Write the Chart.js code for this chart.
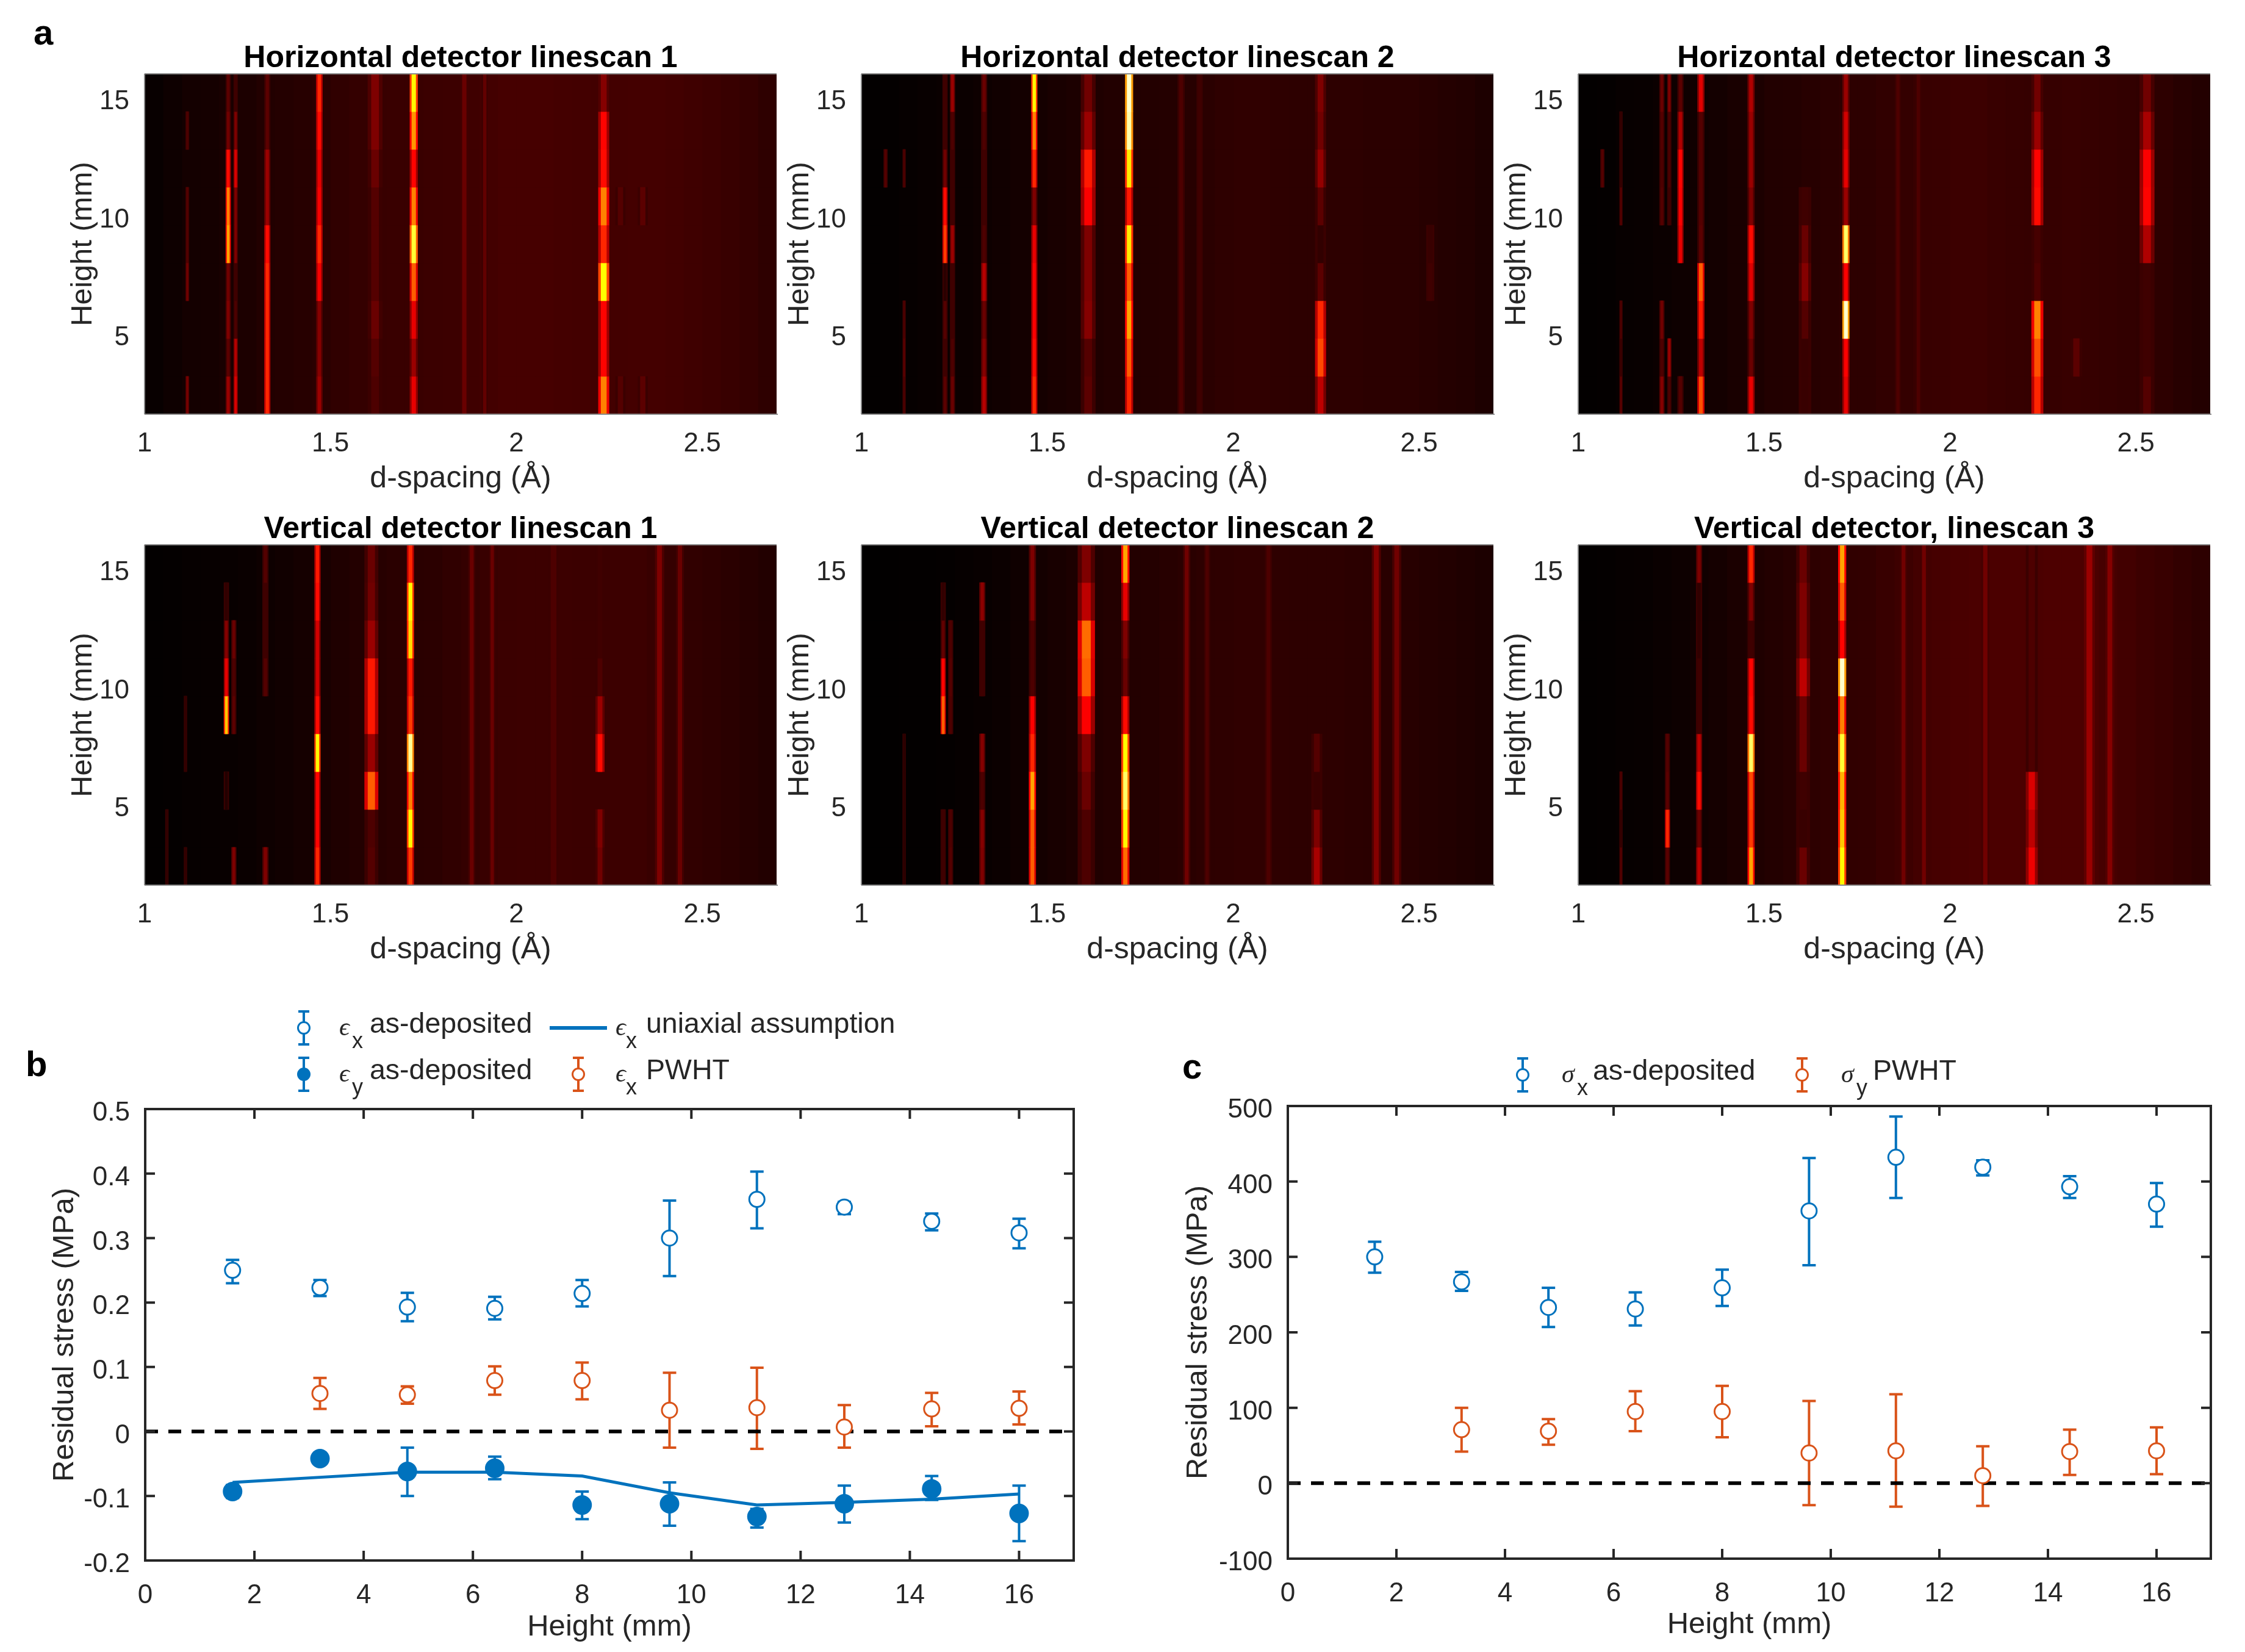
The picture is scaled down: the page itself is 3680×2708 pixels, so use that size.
<!DOCTYPE html>
<html><head><meta charset="utf-8">
<style>
html,body{margin:0;padding:0;background:#fff}
#page{position:relative;width:3680px;height:2708px;overflow:hidden;background:#fff}
canvas{position:absolute}
.letter{position:absolute;font:bold 58px/1 "Liberation Sans",sans-serif;color:#000}
</style>
<script src="https://cdn.jsdelivr.net/npm/chart.js@4/dist/chart.umd.min.js"></script>
</head><body><div id="page">
<div class="letter" style="left:55px;top:24px">a</div>
<div class="letter" style="left:42px;top:1715px">b</div>
<div class="letter" style="left:1938px;top:1719px">c</div>
</div>
<script>
// ---------- shared axes ----------
const dTicks=[1,1.5,2,2.5];
const heatHeightTicks=[5,10,15];
const rowLabels=['1.6-3.2','3.2-4.8','4.8-6.4','6.4-8','8-9.6','9.6-11.2','11.2-12.8','12.8-14.4','14.4-16'];
const bgBinStart=[1,1.05,1.1,1.15,1.2,1.25,1.3,1.35,1.4,1.45,1.5,1.55,1.6,1.65,1.7,1.75,1.8,1.85,1.9,1.95,2,2.05,2.1,2.15,2.2,2.25,2.3,2.35,2.4,2.45,2.5,2.55,2.6,2.65];
const bgBinWidth=0.05;

// ---------- background intensity per d bin ----------
const bgH1=[.012,.02,.028,.03,.036,.04,.048,.052,.056,.06,.068,.075,.08,.082,.082,.084,.086,.09,.096,.1,.1,.1,.098,.096,.094,.096,.098,.098,.094,.09,.086,.08,.074,.066];
const bgH2=[.004,.006,.008,.012,.014,.016,.02,.024,.028,.03,.036,.04,.044,.048,.05,.05,.052,.056,.06,.066,.068,.068,.066,.064,.064,.064,.064,.062,.062,.06,.056,.052,.048,.042];
const bgH3=[.004,.006,.01,.012,.016,.02,.024,.028,.036,.04,.048,.05,.056,.06,.064,.064,.07,.074,.08,.082,.086,.086,.08,.078,.076,.078,.08,.078,.074,.072,.068,.064,.056,.05];
const bgV1=[.004,.006,.008,.01,.012,.014,.02,.024,.03,.036,.044,.05,.056,.06,.06,.062,.068,.074,.08,.084,.086,.086,.086,.084,.084,.086,.086,.08,.076,.07,.066,.06,.054,.048];
const bgV2=[.002,.003,.004,.005,.006,.008,.012,.016,.022,.028,.034,.04,.046,.05,.05,.052,.056,.06,.064,.066,.068,.068,.066,.064,.064,.064,.062,.06,.058,.056,.052,.048,.044,.04];
const bgV3=[.004,.006,.008,.01,.014,.018,.024,.03,.038,.044,.05,.056,.064,.068,.07,.072,.08,.088,.096,.1,.104,.108,.108,.108,.108,.11,.11,.108,.1,.094,.086,.08,.072,.064];

// ---------- peaks: d, d-width, intensity in height rows bottom to top (0 = none) ----------
const peaksH1=[
[1.115,.007,.17,0,0,.16,.12,.12,0,.11,0],
[1.225,.01,.22,.13,.18,.16,.6,.55,.38,.16,.13],
[1.245,.008,.31,.26,.11,.09,.18,.18,.31,.18,.09],
[1.33,.012,.42,.42,.42,.42,.38,.22,.22,.13,.13],
[1.47,.013,.22,.19,.19,.35,.42,.35,.33,.38,.42],
[1.62,.03,.11,.12,.15,.12,.12,.12,.15,.18,.18],
[1.724,.016,.33,.22,.33,.5,.8,.55,.37,.58,.72],
[1.86,.016,.15,.15,.15,.15,.15,.15,.15,.15,.15],
[1.915,.012,.14,.14,.14,.14,.14,.14,.14,.14,.14],
[2.235,.022,.55,.37,.37,.75,.42,.55,.38,.37,.19],
[2.28,.02,.12,0,0,0,0,.12,0,0,0],
[2.34,.02,.13,0,0,0,0,.13,0,0,0]];
const peaksH2=[
[1.065,.008,0,0,0,0,0,0,.12,0,0],
[1.115,.006,.11,.13,.11,0,0,0,.11,0,0],
[1.225,.01,.13,.09,.12,.06,.45,.38,.16,.09,.09],
[1.245,.01,.15,.11,.09,.09,.22,.09,.09,.11,.22],
[1.33,.012,.26,.19,.15,.26,.11,.09,.09,.11,.15],
[1.465,.012,.42,.38,.36,.36,.33,.18,.42,.55,.72],
[1.61,.03,.13,.12,.19,.18,.18,.36,.4,.22,.16],
[1.72,.016,.42,.5,.6,.5,.7,.4,.7,.92,.95],
[1.86,.014,.11,.11,.11,.11,.11,.11,.11,.11,.11],
[1.91,.012,.09,.09,.09,.09,.09,.09,.09,.09,.09],
[2.235,.022,.27,.47,.42,.13,.07,.13,.21,.16,.18],
[2.53,.016,0,0,0,.09,.08,0,0,0,0]];
const peaksH3=[
[1.065,.008,0,0,0,0,0,0,.12,0,0],
[1.115,.006,.13,.08,.11,0,0,.12,.07,.07,0],
[1.225,.01,.19,.11,.16,0,0,.12,.11,.12,.15],
[1.245,.008,.11,.22,0,0,0,.09,.11,.11,.18],
[1.275,.012,.12,0,0,0,.33,.36,.37,.25,.13],
[1.33,.014,.48,.27,.4,.5,.13,.12,.12,.12,.32],
[1.465,.014,.33,.15,.18,.32,.38,.18,.22,.22,.25],
[1.61,.025,.08,.08,.12,.19,.15,.09,0,0,0],
[1.72,.014,.33,.36,.95,.36,.85,.22,.33,.3,.22],
[1.86,.012,.11,.11,.11,.11,.11,.11,.11,.11,.11],
[1.915,.012,.11,.11,.11,.11,.11,.11,.11,.11,.11],
[2.235,.024,.42,.48,.55,.11,.1,.38,.37,.22,.16],
[2.34,.024,0,.13,0,0,0,0,0,0,0],
[2.53,.03,.12,.09,.09,.09,.25,.37,.36,.24,.16]];
const peaksV1=[
[1.06,.006,.07,.07,0,0,0,0,0,0,0],
[1.11,.006,.07,0,0,.07,.07,0,0,0,0],
[1.22,.01,0,0,.05,0,.65,.33,.19,.07,0],
[1.24,.01,.18,0,0,0,.13,.11,.15,0,0],
[1.325,.012,.18,0,0,0,0,.12,.09,.09,.12],
[1.465,.012,.42,.37,.37,.72,.38,.3,.3,.38,.4],
[1.61,.028,.12,.11,.5,.22,.4,.4,.22,.16,.15],
[1.715,.014,.45,.72,.55,.9,.45,.4,.68,.72,.42],
[1.88,.014,.15,.15,.15,.15,.15,.15,.15,.15,.15],
[1.935,.012,.15,.15,.15,.15,.15,.15,.15,.15,.15],
[2.1,.022,.11,.11,.11,.11,.11,.11,.11,.11,.11],
[2.225,.018,.16,.18,0,.38,.22,.11,.09,.09,.09],
[2.385,.018,.18,.18,.18,.18,.18,.18,.18,.18,.18],
[2.44,.016,.15,.15,.15,.15,.15,.15,.15,.15,.15]];
const peaksV2=[
[1.115,.006,.06,.06,.06,.06,0,0,0,0,0],
[1.22,.01,.09,.09,0,0,.5,.37,.14,.07,0],
[1.24,.01,.12,.11,0,0,.11,.12,.11,0,0],
[1.325,.012,.18,.19,.11,.19,0,.09,.09,.2,0],
[1.46,.014,.5,.5,.6,.42,.36,.11,.11,.18,.18],
[1.605,.035,.11,.11,.15,.18,.36,.5,.52,.27,.18],
[1.71,.016,.52,.72,.85,.73,.38,.15,.18,.33,.6],
[1.875,.014,.16,.16,.16,.16,.16,.16,.16,.16,.16],
[1.93,.012,.11,.11,.11,.11,.11,.11,.11,.11,.11],
[2.095,.014,.11,.11,.11,.11,.11,.11,.11,.11,.11],
[2.225,.022,.24,.18,.08,.12,0,0,0,0,0],
[2.385,.018,.19,.19,.19,.19,.19,.19,.19,.19,.19],
[2.44,.018,.16,.16,.16,.16,.16,.16,.16,.16,.16]];
const peaksV3=[
[1.115,.006,.12,.07,.11,0,0,0,0,0,0],
[1.24,.01,.13,.42,.13,.12,0,0,0,0,0],
[1.325,.012,.27,.15,.38,.27,.09,.09,.07,.07,.18],
[1.465,.014,.6,.45,.47,.85,.38,.37,.09,.18,.42],
[1.605,.028,.15,.08,.09,.15,.15,.27,.18,.18,.15],
[1.71,.016,.72,.65,.62,.8,.55,.95,.37,.5,.6],
[1.875,.014,.16,.16,.16,.16,.16,.16,.16,.16,.16],
[1.93,.014,.16,.16,.16,.16,.16,.16,.16,.16,.16],
[2.095,.016,.16,.16,.16,.16,.16,.16,.16,.16,.16],
[2.22,.024,.34,.27,.31,.11,.11,.11,.11,.11,.11],
[2.375,.022,.22,.22,.22,.22,.22,.22,.22,.22,.22],
[2.43,.018,.19,.19,.19,.19,.19,.19,.19,.19,.19]];

// ---------- panels b and c values ----------
const heightsMm=[1.6,3.2,4.8,6.4,8,9.6,11.2,12.8,14.4,16];
const heightTicks=[0,2,4,6,8,10,12,14,16];
const zeroX=[0,17], zeroY=[0,0];
const strainTicks=[-0.2,-0.1,0,0.1,0.2,0.3,0.4,0.5];
const stressTicks=[-100,0,100,200,300,400,500];

const exAsDep=[.25,.223,.193,.191,.214,.30,.36,.348,.326,.308];
const exAsDepLow=[.230,.21,.171,.174,.194,.241,.315,.337,.312,.284];
const exAsDepHigh=[.266,.235,.215,.209,.235,.358,.403,.356,.338,.33];
const eyAsDep=[-.093,-.042,-.062,-.057,-.114,-.112,-.132,-.112,-.089,-.127];
const eyAsDepLow=[-.103,-.05,-.10,-.074,-.136,-.146,-.149,-.141,-.106,-.17];
const eyAsDepHigh=[-.083,-.033,-.025,-.039,-.093,-.079,-.12,-.084,-.069,-.084];
const exUniaxial=[-.079,-.071,-.063,-.063,-.069,-.095,-.114,-.110,-.105,-.097];
const exPwht=[null,.059,.057,.079,.079,.033,.037,.007,.035,.036];
const exPwhtLow=[null,.035,.043,.057,.05,-.025,-.027,-.025,.008,.011];
const exPwhtHigh=[null,.083,.07,.101,.107,.091,.099,.041,.06,.062];

const sxAsDep=[300,267,233,231,259,361,432,419,393,370];
const sxAsDepLow=[279,255,207,209,235,289,378,408,378,340];
const sxAsDepHigh=[320,280,259,253,283,431,486,428,407,398];
const syPwht=[null,71,69,95,95,40,43,10,42,43];
const syPwhtLow=[null,42,51,69,61,-29,-31,-30,11,12];
const syPwhtHigh=[null,100,85,122,129,109,118,49,71,74];

const BLUE='#0072BD', ORANGE='#D95319', INK='#262626', FAMILY='"Liberation Sans",Arial,sans-serif';
const page=document.getElementById('page');

function hot(t){
  const c=v=>Math.round(255*Math.max(0,Math.min(1,v)));
  return `rgb(${c(t/.365)},${c((t-.365)/.365)},${c((t-.75)/.25)})`;
}
function addCanvas(l,t,w,h){
  const c=document.createElement('canvas');
  c.width=w;c.height=h;c.style.left=l+'px';c.style.top=t+'px';c.style.width=w+'px';c.style.height=h+'px';
  page.appendChild(c);return c.getContext('2d');
}
const plotUnderlay={id:'plotUnderlay',beforeDatasetsDraw(ch){
  const a=ch.chartArea,g=ch.ctx;g.save();g.fillStyle='#280000';g.fillRect(a.left,a.top,a.width,a.height);g.restore();}};
const heatEdges={id:'heatEdges',afterDatasetsDraw(ch){
  const a=ch.chartArea,g=ch.ctx;g.save();g.strokeStyle='#8a8a8a';g.lineWidth=2;
  g.beginPath();g.moveTo(a.left,a.top);g.lineTo(a.right,a.top);g.moveTo(a.left,a.bottom);g.lineTo(a.right+2,a.bottom);g.moveTo(a.left,a.top);g.lineTo(a.left,a.bottom);g.stroke();g.restore();}};

function heatPanel(cfg){
  const L=cfg.left,T=cfg.top,W=1036,H=558,mL=130,mT=60,mR=10,mB=136;
  const datasets=[];
  cfg.bg.forEach((v,i)=>{
    datasets.push({order:3,data:rowLabels.map(()=>[bgBinStart[i],bgBinStart[i]+bgBinWidth]),backgroundColor:hot(v)});
  });
  cfg.peaks.forEach(p=>{
    const rows=p.slice(2);
    // soft shoulder under each peak: the reference lines are blurred
    datasets.push({order:2,data:rows.map(v=>v>0?[p[0]-p[1]*.65,p[0]+p[1]*.65]:null),backgroundColor:rows.map(v=>hot(Math.max(v*.62,.085)))});
    datasets.push({order:1,data:rows.map(v=>v>0?[p[0]-p[1]*.33,p[0]+p[1]*.33]:null),backgroundColor:rows.map(hot)});
  });
  new Chart(addCanvas(L-mL,T-mT,W+mL+mR,H+mT+mB),{
    type:'bar',
    data:{labels:rowLabels,datasets},
    plugins:[plotUnderlay,heatEdges],
    options:{
      indexAxis:'y',responsive:false,animation:false,devicePixelRatio:1,events:[],
      layout:{padding:{top:10,right:mR,left:0,bottom:0}},
      datasets:{bar:{grouped:false,barPercentage:1,categoryPercentage:1,borderWidth:0}},
      plugins:{legend:{display:false},tooltip:{enabled:false},
        title:{display:true,fullSize:false,text:cfg.title,color:'#000',padding:0,font:{family:FAMILY,size:50,weight:'bold',lineHeight:1}}},
      scales:{
        x:{type:'linear',min:1,max:2.7,grid:{display:false},border:{display:false},
          afterBuildTicks:s=>{s.ticks=dTicks.map(v=>({value:v}));},
          afterFit:s=>{s.height=mB;},
          ticks:{color:INK,padding:19,maxRotation:0,autoSkip:false,font:{family:FAMILY,size:44,lineHeight:1},callback:v=>String(v)},
          title:{display:true,text:cfg.xlabel,color:INK,padding:0,font:{family:FAMILY,size:50,lineHeight:1.2}}},
        y:{type:'category',labels:rowLabels,reverse:true,display:false,offset:true},
        h:{axis:'y',type:'linear',position:'left',offset:false,min:1.6,max:16,grid:{display:false,offset:false},border:{display:false},
          afterBuildTicks:s=>{s.ticks=heatHeightTicks.map(v=>({value:v}));},
          afterFit:s=>{s.width=mL;},
          ticks:{color:INK,padding:17,labelOffset:7,autoSkip:false,font:{family:FAMILY,size:44,lineHeight:1},callback:v=>String(v)},
          title:{display:true,text:'Height (mm)',color:INK,padding:0,font:{family:FAMILY,size:49,lineHeight:1.2}}}
      }
    }
  });
}
const colLeft=[237,1412,2587], rowTop=[121,893];
heatPanel({left:colLeft[0],top:rowTop[0],title:'Horizontal detector linescan 1',xlabel:'d-spacing (Å)',bg:bgH1,peaks:peaksH1});
heatPanel({left:colLeft[1],top:rowTop[0],title:'Horizontal detector linescan 2',xlabel:'d-spacing (Å)',bg:bgH2,peaks:peaksH2});
heatPanel({left:colLeft[2],top:rowTop[0],title:'Horizontal detector linescan 3',xlabel:'d-spacing (Å)',bg:bgH3,peaks:peaksH3});
heatPanel({left:colLeft[0],top:rowTop[1],title:'Vertical detector linescan 1',xlabel:'d-spacing (Å)',bg:bgV1,peaks:peaksV1});
heatPanel({left:colLeft[1],top:rowTop[1],title:'Vertical detector linescan 2',xlabel:'d-spacing (Å)',bg:bgV2,peaks:peaksV2});
heatPanel({left:colLeft[2],top:rowTop[1],title:'Vertical detector, linescan 3',xlabel:'d-spacing (A)',bg:bgV3,peaks:peaksV3});

// ---------- error bars, frame and legend plugins ----------
const errorBars={id:'errorBars',beforeDatasetsDraw(ch){
  const g=ch.ctx,xs=ch.scales.x,ys=ch.scales.y;g.save();g.lineWidth=4;
  ch.data.datasets.forEach(ds=>{
    if(!ds.errLow)return;g.strokeStyle=ds.borderColor;
    ds.data.forEach((p,i)=>{
      if(ds.errLow[i]==null)return;
      const x=xs.getPixelForValue(p.x),a=ys.getPixelForValue(ds.errLow[i]),b=ys.getPixelForValue(ds.errHigh[i]);
      g.beginPath();g.moveTo(x,a);g.lineTo(x,b);g.moveTo(x-11,a);g.lineTo(x+11,a);g.moveTo(x-11,b);g.lineTo(x+11,b);g.stroke();
    });
  });g.restore();}};
const boxFrame={id:'boxFrame',afterDatasetsDraw(ch){
  const a=ch.chartArea,g=ch.ctx,xs=ch.scales.x,ys=ch.scales.y,len=16;g.save();g.strokeStyle=INK;g.lineWidth=4;
  g.strokeRect(a.left,a.top,a.width,a.height);g.beginPath();
  xs.ticks.forEach(t=>{const p=xs.getPixelForValue(t.value);g.moveTo(p,a.bottom);g.lineTo(p,a.bottom-len);g.moveTo(p,a.top);g.lineTo(p,a.top+len);});
  ys.ticks.forEach(t=>{const p=ys.getPixelForValue(t.value);g.moveTo(a.left,p);g.lineTo(a.left+len,p);g.moveTo(a.right,p);g.lineTo(a.right-len,p);});
  g.stroke();g.restore();}};
const formulaLegend={id:'formulaLegend',afterDraw(ch,args,opts){
  const g=ch.ctx;g.save();
  (opts.items||[]).forEach(it=>{
    const sx=it.sx-opts.ox,sy=it.sy-opts.oy;
    g.strokeStyle=it.color;
    if(it.line){g.lineWidth=6;g.beginPath();g.moveTo(sx-47,sy);g.lineTo(sx+47,sy);g.stroke();}
    else{
      g.lineWidth=4;g.beginPath();g.moveTo(sx,sy-27);g.lineTo(sx,sy+27);g.moveTo(sx-9,sy-27);g.lineTo(sx+9,sy-27);g.moveTo(sx-9,sy+27);g.lineTo(sx+9,sy+27);g.stroke();
      g.lineWidth=3;g.beginPath();g.arc(sx,sy,9.5,0,Math.PI*2);g.fillStyle=it.solid?it.color:'#fff';g.fill();g.stroke();
    }
    g.fillStyle=INK;g.textBaseline='middle';g.textAlign='left';
    g.font='italic 42px "Liberation Serif",serif';g.fillText(it.sym,it.symX-opts.ox,sy+1);
    g.font='36px '+FAMILY;g.fillText(it.sub,it.subX-opts.ox,sy+23);
    g.font='46.5px '+FAMILY;g.fillText(it.text,it.textX-opts.ox,sy-5);
  });g.restore();}};

function linePanel(cfg){
  const {left:L,top:T,width:W,height:H,mL,mT,mR,mB}=cfg;
  new Chart(addCanvas(L-mL,T-mT,W+mL+mR,H+mT+mB),{
    type:'scatter',
    data:{datasets:cfg.datasets},
    plugins:[errorBars,boxFrame,formulaLegend],
    options:{
      responsive:false,animation:false,devicePixelRatio:1,events:[],
      layout:{padding:{top:mT,right:mR,left:0,bottom:0}},
      plugins:{legend:{display:false},tooltip:{enabled:false},
        formulaLegend:{ox:L-mL,oy:T-mT,items:cfg.legend}},
      scales:{
        x:{type:'linear',min:0,max:17,grid:{display:false},border:{display:false},
          afterBuildTicks:s=>{s.ticks=heightTicks.map(v=>({value:v}));},
          afterFit:s=>{s.height=mB;},
          ticks:{color:INK,padding:28,maxRotation:0,autoSkip:false,font:{family:FAMILY,size:44,lineHeight:1},callback:v=>String(v)},
          title:{display:true,text:'Height (mm)',color:INK,padding:0,font:{family:FAMILY,size:49,lineHeight:1.2}}},
        y:{type:'linear',min:cfg.yMin,max:cfg.yMax,grid:{display:false},border:{display:false},
          afterBuildTicks:s=>{s.ticks=cfg.yTicks.map(v=>({value:v}));},
          afterFit:s=>{s.width=mL;},
          ticks:{color:INK,padding:17,labelOffset:7,autoSkip:false,font:{family:FAMILY,size:44,lineHeight:1},callback:v=>String(v)},
          title:{display:true,text:'Residual stress (MPa)',color:INK,padding:0,font:{family:FAMILY,size:49,lineHeight:1.2}}}
      }
    }
  });
}
const pts=(ys)=>heightsMm.map((x,i)=>({x,y:ys[i]}));
const zeroLine=()=>({label:'zero',order:5,showLine:true,data:zeroX.map((x,i)=>({x,y:zeroY[i]})),borderColor:'#000',borderWidth:6,borderDash:[21,17],pointRadius:0});
const markers=(label,ys,lo,hi,color,solid)=>({label,order:1,showLine:false,data:pts(ys),errLow:lo,errHigh:hi,borderColor:color,backgroundColor:solid?color:'#fff',pointRadius:solid?14.5:12.5,pointBorderWidth:3,pointBorderColor:color,pointBackgroundColor:solid?color:'#fff'});

linePanel({left:238,top:1818,width:1522,height:740,mL:161,mT:190,mR:20,mB:139,yMin:-0.2,yMax:0.5,yTicks:strainTicks,
  datasets:[
    markers('εx as-deposited',exAsDep,exAsDepLow,exAsDepHigh,BLUE,false),
    markers('εy as-deposited',eyAsDep,eyAsDepLow,eyAsDepHigh,BLUE,true),
    {label:'εx uniaxial assumption',order:2,showLine:true,data:pts(exUniaxial),borderColor:BLUE,borderWidth:5,pointRadius:0},
    markers('εx PWHT',exPwht,exPwhtLow,exPwhtHigh,ORANGE,false),
    zeroLine()
  ],
  legend:[
    {sx:498,sy:1685,color:BLUE,sym:'ϵ',sub:'x',text:'as-deposited',symX:556,subX:577,textX:606},
    {sx:498,sy:1761,color:BLUE,solid:true,sym:'ϵ',sub:'y',text:'as-deposited',symX:556,subX:577,textX:606},
    {sx:948,sy:1685,line:true,color:BLUE,sym:'ϵ',sub:'x',text:'uniaxial assumption',symX:1009,subX:1026,textX:1059},
    {sx:948,sy:1761,color:ORANGE,sym:'ϵ',sub:'x',text:'PWHT',symX:1009,subX:1026,textX:1059}
  ]});
linePanel({left:2111,top:1813,width:1513,height:742,mL:176,mT:100,mR:20,mB:138,yMin:-100,yMax:500,yTicks:stressTicks,
  datasets:[
    markers('σx as-deposited',sxAsDep,sxAsDepLow,sxAsDepHigh,BLUE,false),
    markers('σy PWHT',syPwht,syPwhtLow,syPwhtHigh,ORANGE,false),
    zeroLine()
  ],
  legend:[
    {sx:2496,sy:1762,color:BLUE,sym:'σ',sub:'x',text:'as-deposited',symX:2560,subX:2585,textX:2611},
    {sx:2954,sy:1762,color:ORANGE,sym:'σ',sub:'y',text:'PWHT',symX:3018,subX:3043,textX:3070}
  ]});
</script>
</body></html>
